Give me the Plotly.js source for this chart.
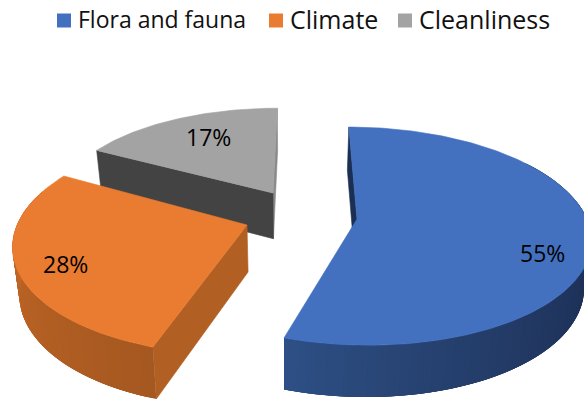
<!DOCTYPE html>
<html>
<head>
<meta charset="utf-8">
<script src="https://cdn.plot.ly/plotly-3.0.1.min.js"></script>
<style>html,body{margin:0;padding:0;background:#fff}#chart{width:584px;height:400px}</style>
</head>
<body>
<div id="chart"></div>
<script>
// Survey shares, in percent
var categories = ["Flora and fauna", "Climate", "Cleanliness"];
var shares = [55, 28, 17];
var topColors = ["#4371c0", "#e97c30", "#a3a3a3"];

// Exploded wedge geometry in plot units: apex position, radius, tilt and perspective
var apexX = [357, 247, 273];
var apexY = [219, 225, 193];
var radius = [230, 230, 212];
var tiltY = [106.4, 109.3, 92];
var persp = [0.157, 0.156, 0.085];
var skew = [-0.041, 0.0415, 0.022];

// Rim shading, from the slice's first visible angle to its last
var rimFrom = [[27, 44, 80], [165, 88, 32], [67, 67, 67]];
var rimTo = [[46, 80, 134], [202, 107, 41], [67, 67, 67]];
var radialColors = ["#1b2f54", "#b25f23", "#434343"];
var legendX = [64, 276, 405];
var legendTextX = [78, 290, 419];
var legendSize = [23, 25, 25];
var labelX = [542, 65, 208];
var labelY = [253, 264, 137];

var RAD = Math.PI / 180;
var traces = [];

function project(i, deg) {
  var sn = Math.sin(deg * RAD), cs = Math.cos(deg * RAD);
  var s = 1 / (1 + persp[i] * cs);
  return [apexX[i] + (sn + skew[i] * cs) * radius[i] * s,
          apexY[i] - tiltY[i] * cs * s];
}
// Bottom rim point below a point on the top face
function drop(p) {
  return [p[0] + (290 - p[0]) * 0.025, p[1] + 47 + (p[1] - 225) * 0.04];
}
function poly(points, color, edge) {
  var xs = points.map(function (p) { return p[0]; });
  var ys = points.map(function (p) { return p[1]; });
  xs.push(xs[0]); ys.push(ys[0]);
  traces.push({
    type: "scatter", mode: "lines", x: xs, y: ys, fill: "toself", fillcolor: color,
    line: {color: color, width: edge === undefined ? 0.6 : edge}, hoverinfo: "skip", showlegend: false
  });
}
function mix(a, b, t) {
  return "rgb(" + a.map(function (v, k) { return Math.round(v + (b[k] - v) * t); }).join(",") + ")";
}

// Angle span of each slice, clockwise from twelve o'clock
var spans = [], running = 0;
shares.forEach(function (v) {
  spans.push([running, running + v * 3.6]);
  running += v * 3.6;
});

function wedge(i, rim0, rim1, radialDeg) {
  var a = spans[i][0], b = spans[i][1];
  var apex = [apexX[i], apexY[i]];
  // radial wall
  var pr = project(i, radialDeg);
  poly([apex, pr, drop(pr), drop(apex)], radialColors[i]);
  // outer rim as overlapping shaded strips, so no seams show between them
  if (rim1 > rim0) {
    var n = Math.round(rim1 - rim0);
    for (var k = 0; k < n; k++) {
      var d0 = rim0 + (rim1 - rim0) * k / n;
      var d1 = Math.min(rim1, d0 + 4);
      var arc = [];
      for (var q = d0; q < d1; q += 0.5) arc.push(project(i, q));
      arc.push(project(i, d1));
      var low = arc.map(drop).reverse();
      var c = mix(rimFrom[i], rimTo[i], i === 0 ? (k / n) * (k / n) : k / n);
      poly(arc.concat(low), c, 0);
    }
  }
  // top face
  var pts = [apex];
  for (var t = a; t <= b + 0.001; t += 1) pts.push(project(i, t));
  pts.push(project(i, b));
  poly(pts, topColors[i]);
}

// Back to front: the grey slice, then orange, then blue
poly([[apexX[2], apexY[2]], project(2, 360), drop(project(2, 360)), drop([apexX[2], apexY[2]])], "#8a8a8a");
wedge(2, 0, 0, spans[2][0]);
wedge(1, spans[1][0], spans[1][1] - 10, spans[1][0]);
wedge(0, 55, spans[0][1], spans[0][0]);

// Legend swatches
categories.forEach(function (name, i) {
  traces.push({
    type: "scatter", mode: "markers", x: [legendX[i]], y: [20.5],
    marker: {symbol: "square", size: 14, color: topColors[i]},
    hoverinfo: "skip", showlegend: false
  });
});

var annotations = [];
categories.forEach(function (name, i) {
  annotations.push({
    x: legendTextX[i], y: 19, xref: "x", yref: "y", text: name, showarrow: false,
    xanchor: "left", yanchor: "middle", xshift: -2,
    font: {family: "'Open Sans', sans-serif", size: legendSize[i], color: "#111111"}
  });
  annotations.push({
    x: labelX[i], y: labelY[i], xref: "x", yref: "y", text: shares[i] + "%", showarrow: false,
    xanchor: "center", yanchor: "middle",
    font: {family: "'Open Sans', sans-serif", size: 23, color: "#000000"}
  });
});

var layout = {
  width: 584, height: 400,
  margin: {l: 0, r: 0, t: 0, b: 0},
  paper_bgcolor: "#ffffff", plot_bgcolor: "#ffffff",
  showlegend: false,
  xaxis: {range: [0, 584], visible: false, fixedrange: true},
  yaxis: {range: [400, 0], visible: false, fixedrange: true},
  annotations: annotations
};
Plotly.newPlot("chart", traces, layout, {staticPlot: true, displayModeBar: false});
</script>
</body>
</html>
